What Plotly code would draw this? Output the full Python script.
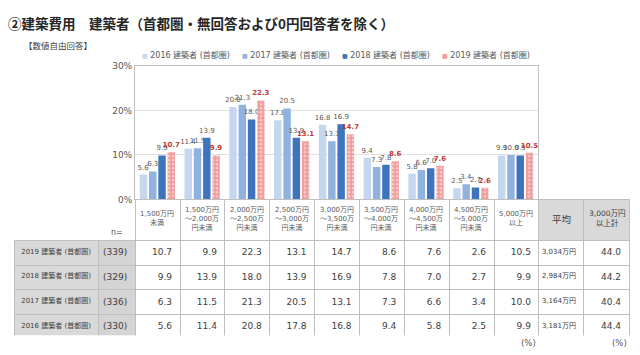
import plotly.graph_objects as go

# ---------------- data ----------------
categories = ['1,500万円未満', '1,500万円～2,000万円未満', '2,000万円～2,500万円未満',
              '2,500万円～3,000万円未満', '3,000万円～3,500万円未満', '3,500万円～4,000万円未満',
              '4,000万円～4,500万円未満', '4,500万円～5,000万円未満', '5,000万円以上']
header_labels = ['1,500万円<br>未満', '1,500万円<br>～2,000万<br>円未満', '2,000万円<br>～2,500万<br>円未満',
                 '2,500万円<br>～3,000万<br>円未満', '3,000万円<br>～3,500万<br>円未満', '3,500万円<br>～4,000万<br>円未満',
                 '4,000万円<br>～4,500万<br>円未満', '4,500万円<br>～5,000万<br>円未満', '5,000万円<br>以上']
extra_headers = ['平均', '3,000万円<br>以上計']
series_names = ['2016 建築者 (首都圏)', '2017 建築者 (首都圏)', '2018 建築者 (首都圏)', '2019 建築者 (首都圏)']
v2016 = [5.6, 11.4, 20.8, 17.8, 16.8, 9.4, 5.8, 2.5, 9.9]
v2017 = [6.3, 11.5, 21.3, 20.5, 13.1, 7.3, 6.6, 3.4, 10.0]
v2018 = [9.9, 13.9, 18.0, 13.9, 16.9, 7.8, 7.0, 2.7, 9.9]
v2019 = [10.7, 9.9, 22.3, 13.1, 14.7, 8.6, 7.6, 2.6, 10.5]
n_values = [330, 336, 329, 339]
avg_cost = ['3,181万円', '3,164万円', '2,984万円', '3,034万円']
over_3000 = [44.4, 40.4, 44.2, 44.0]
y_ticks = [0, 10, 20, 30]

series = [v2016, v2017, v2018, v2019]
colors = ['#c5d7ee', '#8fb2de', '#3d74bd', '#f19c9c']
label_colors = ['#595959', '#595959', '#595959', '#c0393b']

W, H = 640, 355
def px(x):
    return x / W
def py(y):
    return 1 - y / H

FONT = 'DejaVu Sans, Noto Sans CJK JP, sans-serif'
CJK = 'Noto Sans CJK JP, sans-serif'
NB = '\u00a0'

fig = go.Figure()

for i, (name, vals) in enumerate(zip(series_names, series)):
    marker = dict(color=colors[i], line=dict(width=0))
    if i == 3:
        marker['pattern'] = dict(shape='.', fgcolor='white', size=4, solidity=0.35)
    fig.add_trace(go.Bar(
        x=categories, y=vals, name=name, marker=marker,
        text=[f'{v:.1f}' for v in vals], textposition='outside',
        textfont=dict(size=7, color=label_colors[i], family=FONT,
                      weight='bold' if i == 3 else 'normal'),
        cliponaxis=False, constraintext='none', showlegend=False,
        xaxis='x', yaxis='y'))

# ---------------- table ----------------
rows_rev = list(range(3, -1, -1))  # 2019, 2018, 2017, 2016
col_vals = [
    [series_names[r].replace(' ', NB) for r in rows_rev],
    [f'({n_values[r]})' for r in rows_rev],
]
for k in range(len(categories)):
    col_vals.append([f'{series[r][k]:.1f}' for r in rows_rev])
col_vals.append([avg_cost[r] for r in rows_rev])
col_vals.append([f'{over_3000[r]:.1f}' for r in rows_rev])

ncat = len(categories)
header_vals = [''] * (ncat + 4)
header_fill = ['rgba(0,0,0,0)', 'rgba(0,0,0,0)'] + ['white'] * ncat + ['#d9d9d9', '#d9d9d9']
header_line = ['rgba(0,0,0,0)', 'rgba(0,0,0,0)'] + ['#bfbfbf'] * (ncat + 2)
cell_fill = ['#d9d9d9', '#d4d4d4'] + ['white'] * (ncat + 2)
cell_size = [7, 9] + [9] * ncat + [7, 9]
cell_align = ['center', 'right'] + ['right'] * (ncat + 2)

fig.add_trace(go.Table(
    domain=dict(x=[px(14), px(629)], y=[py(340), py(200)]),
    columnwidth=[84, 37] + [44.8] * ncat + [45, 45],
    header=dict(values=header_vals, height=41, align='center',
                fill=dict(color=header_fill), line=dict(color=header_line, width=1),
                font=dict(family=FONT, size=7, color='#595959')),
    cells=dict(values=col_vals, height=24.7, align=cell_align,
               fill=dict(color=cell_fill), line=dict(color='#bfbfbf', width=1),
               font=dict(family=FONT, size=cell_size, color='#404040'))
))

# ---------------- annotations ----------------
ann = []
ann.append(dict(text='②建築費用　建築者（首都圏・無回答および0円回答者を除く）',
                x=px(6), y=py(19), xref='paper', yref='paper', xanchor='left', yanchor='middle',
                showarrow=False, font=dict(family=CJK, size=13.5, color='#262626', weight='bold')))
ann.append(dict(text='【数値自由回答】', x=px(22), y=py(41), xref='paper', yref='paper',
                xanchor='left', yanchor='middle', showarrow=False,
                font=dict(family=CJK, size=8.5, color='#404040')))
leg_x = [140, 240, 340, 440]
for i, name in enumerate(series_names):
    ann.append(dict(text=f'<span style="color:{colors[i]};font-size:6px">■</span> {name}',
                    x=px(leg_x[i]), y=py(51), xref='paper', yref='paper',
                    xanchor='left', yanchor='middle', showarrow=False,
                    font=dict(family=FONT, size=8, color='#595959')))
# table header labels (aligned on the bar categories)
for cat, lab in zip(categories, header_labels):
    ann.append(dict(text=lab, x=cat, y=py(220), xref='x', yref='paper',
                    xanchor='center', yanchor='middle', showarrow=False,
                    font=dict(family=FONT, size=7, color='#595959')))
ann.append(dict(text=extra_headers[0], x=px(561), y=py(220), xref='paper', yref='paper',
                xanchor='center', yanchor='middle', showarrow=False,
                font=dict(family=CJK, size=9.5, color='#404040')))
ann.append(dict(text=extra_headers[1], x=px(606.5), y=py(220), xref='paper', yref='paper',
                xanchor='center', yanchor='middle', showarrow=False,
                font=dict(family=FONT, size=7.5, color='#404040')))
ann.append(dict(text='n=', x=px(117), y=py(234), xref='paper', yref='paper',
                xanchor='center', yanchor='middle', showarrow=False,
                font=dict(family=FONT, size=8, color='#595959')))
for xx in [528, 619]:
    ann.append(dict(text='(%)', x=px(xx), y=py(348), xref='paper', yref='paper',
                    xanchor='center', yanchor='middle', showarrow=False,
                    font=dict(family=FONT, size=8.5, color='#595959')))

fig.update_layout(
    width=W, height=H, margin=dict(l=0, r=0, t=0, b=0),
    paper_bgcolor='white', plot_bgcolor='white',
    barmode='group', bargap=0.17, bargroupgap=0.2,
    font=dict(family=FONT, color='#595959'),
    xaxis=dict(domain=[px(135), px(538)], showticklabels=False, ticks='',
               showline=True, linecolor='#bfbfbf', mirror=True, fixedrange=True),
    yaxis=dict(domain=[py(200), py(63)], range=[0, 30], tickvals=y_ticks,
               ticktext=[f'{t}%' for t in y_ticks], showgrid=True, gridcolor='#e0e0e0',
               showline=True, linecolor='#bfbfbf', mirror=True, zeroline=False,
               tickfont=dict(size=9, color='#595959'), ticklen=0),
    annotations=ann,
)

fig.write_html('out.html', config={'displayModeBar': False},
               post_script="document.body.style.margin='0';")
